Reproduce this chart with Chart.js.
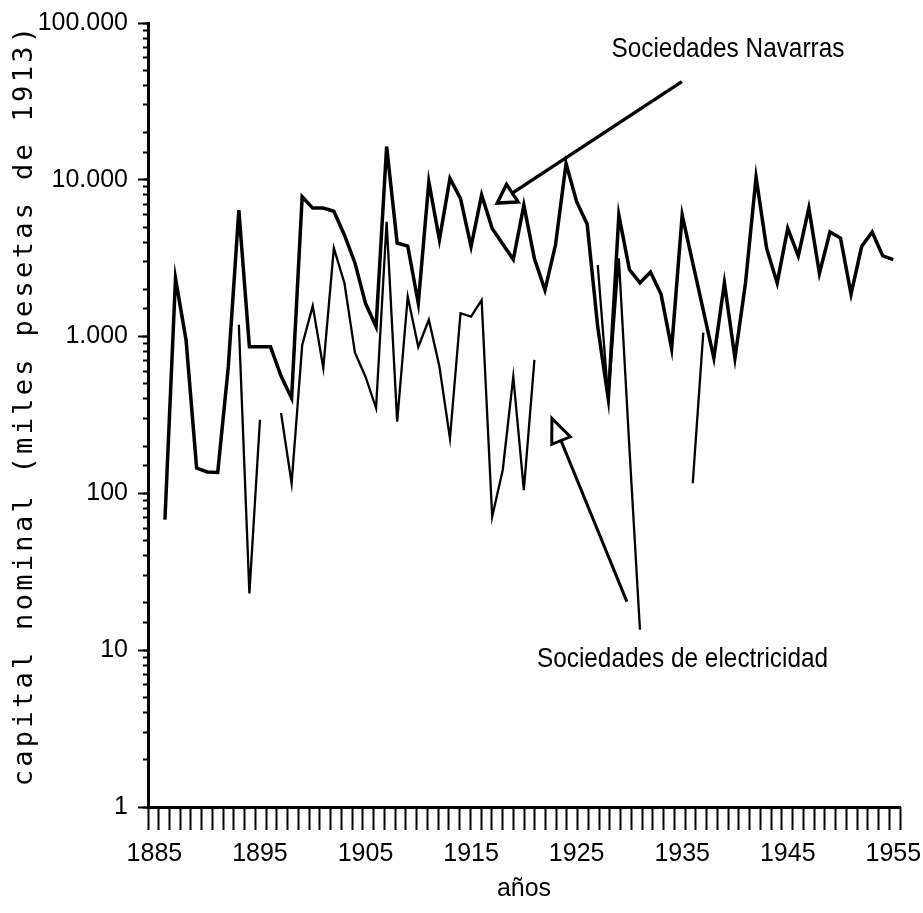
<!DOCTYPE html>
<html>
<head>
<meta charset="utf-8">
<script src="https://cdn.jsdelivr.net/npm/chart.js@4.4.1/dist/chart.umd.min.js"></script>
<style>
  html, body { margin: 0; padding: 0; background: #ffffff; }
  #wrap { width: 923px; height: 913px; position: relative; }
</style>
</head>
<body>
<div id="wrap"><canvas id="c" width="923" height="913"></canvas></div>
<script>
// ---- data ----
const years = [
  1886,1887,1888,1889,1890,1891,1892,1893,1894,1895,
  1896,1897,1898,1899,1900,1901,1902,1903,1904,1905,
  1906,1907,1908,1909,1910,1911,1912,1913,1914,1915,
  1916,1917,1918,1919,1920,1921,1922,1923,1924,1925,
  1926,1927,1928,1929,1930,1931,1932,1933,1934,1935,
  1936,1937,1938,1939,1940,1941,1942,1943,1944,1945,
  1946,1947,1948,1949,1950,1951,1952,1953,1954,1955
];
const sociedadesNavarras = [
  68,2350,950,145,137,136,640,6400,860,860,
  860,560,405,7800,6600,6600,6300,4450,2950,1630,
  1160,16300,3950,3780,1630,9700,4150,10200,7600,3750,
  8000,4900,3900,3100,6900,3150,1980,3850,12700,7250,
  5200,1150,400,5950,2680,2200,2580,1860,840,5950,
  2950,1470,730,2200,730,2200,10400,3650,2200,4900,
  3270,6600,2530,4650,4250,1870,3750,4650,3270,3100
];
const sociedadesElectricidad = [
  null,null,null,null,null,null,null,1190,23,295,
  null,325,116,880,1570,630,3670,2200,790,555,
  350,5400,287,1800,860,1280,645,224,1410,1340,
  1710,71,141,555,105,710,null,null,null,null,
  null,2860,400,3160,195,13.5,null,null,null,null,
  116,1060,null,null,null,null,null,null,null,null,
  null,null,null,null,null,null,null,null,null,null
];
const decadeLabels = [1885,1895,1905,1915,1925,1935,1945,1955];
const yTickValues = [1,10,100,1000,10000,100000];
const yTickLabels = ['1','10','100','1.000','10.000','100.000'];
const seriesNames = ['Sociedades Navarras','Sociedades de electricidad'];
const yTitle = 'capital nominal (miles pesetas de 1913)';
const xTitle = 'años';

// annotation anchors, in data units (year, value)
const annotations = [
  { text: seriesNames[0], textAt: [1928.3, 61000], tail: [1934.97, 42260], tip: [1917.48, 7110],
    lineWidth: 3.4, headLength: 18, headWidth: 21 },
  { text: seriesNames[1], textAt: [1921.24, 7.85], tail: [1929.76, 20.4], tip: [1922.66, 301],
    lineWidth: 3.0, headLength: 24, headWidth: 20 }
];

const sansFont = '"Liberation Sans", Arial, sans-serif';
const monoFont = '"DejaVu Sans Mono", "Liberation Mono", monospace';
const xMin = 1884.394, xMax = 1955.635;

const toPoints = (vals) => years.map((yr, i) => ({ x: yr, y: vals[i] }));

const overlayPlugin = {
  id: 'overlay',
  afterDraw(chart) {
    const { ctx, chartArea, scales } = chart;
    const xs = scales.x, ys = scales.y;
    ctx.save();
    // y-axis title (letter-spaced, rotated)
    ctx.fillStyle = '#000';
    ctx.font = '27px ' + monoFont;
    try { ctx.letterSpacing = '3.3px'; } catch (e) {}
    ctx.translate(32, (chartArea.top + chartArea.bottom) / 2 - 10);
    ctx.rotate(-Math.PI / 2);
    ctx.textAlign = 'center';
    ctx.textBaseline = 'alphabetic';
    ctx.fillText(yTitle, 0, 0);
    ctx.restore();

    for (const a of annotations) {
      const tx = xs.getPixelForValue(a.tail[0]), ty = ys.getPixelForValue(a.tail[1]);
      const px = xs.getPixelForValue(a.tip[0]), py = ys.getPixelForValue(a.tip[1]);
      const dx = px - tx, dy = py - ty, len = Math.hypot(dx, dy);
      const ux = dx / len, uy = dy / len;
      const bx = px - ux * a.headLength, by = py - uy * a.headLength;
      const hw = a.headWidth / 2;
      ctx.save();
      ctx.strokeStyle = '#000';
      ctx.lineWidth = a.lineWidth;
      ctx.lineCap = 'butt';
      ctx.lineJoin = 'miter';
      ctx.beginPath();
      ctx.moveTo(tx, ty);
      ctx.lineTo(bx, by);
      ctx.stroke();
      ctx.beginPath();
      ctx.moveTo(px, py);
      ctx.lineTo(bx - uy * hw, by + ux * hw);
      ctx.lineTo(bx + uy * hw, by - ux * hw);
      ctx.closePath();
      ctx.stroke();
      // label: tall, narrow lettering like the plotter font
      ctx.fillStyle = '#000';
      ctx.font = '28px ' + sansFont;
      ctx.textAlign = 'left';
      ctx.textBaseline = 'alphabetic';
      ctx.translate(xs.getPixelForValue(a.textAt[0]), ys.getPixelForValue(a.textAt[1]));
      ctx.scale(0.87, 1);
      ctx.fillText(a.text, 0, 0);
      ctx.restore();
    }
  }
};

new Chart(document.getElementById('c'), {
  type: 'line',
  data: {
    datasets: [
      {
        label: seriesNames[0],
        data: toPoints(sociedadesNavarras),
        borderColor: '#000',
        borderWidth: 3.5,
        pointRadius: 0,
        tension: 0,
        spanGaps: false,
        xAxisID: 'x', yAxisID: 'y'
      },
      {
        label: seriesNames[1],
        data: toPoints(sociedadesElectricidad),
        borderColor: '#000',
        borderWidth: 2.3,
        pointRadius: 0,
        tension: 0,
        spanGaps: false,
        xAxisID: 'x', yAxisID: 'y'
      }
    ]
  },
  options: {
    responsive: false,
    animation: false,
    layout: { padding: { top: 23, right: 23, bottom: 0, left: 0 } },
    plugins: { legend: { display: false }, tooltip: { enabled: false }, title: { display: false } },
    scales: {
      x: {
        type: 'linear',
        position: 'bottom',
        min: xMin,
        max: xMax,
        afterBuildTicks: (s) => { s.ticks = decadeLabels.map(v => ({ value: v })); },
        afterFit: (s) => { s.height = 106; s.paddingLeft = 0; s.paddingRight = 0; },
        ticks: {
          autoSkip: false, maxRotation: 0, padding: 0, color: '#000',
          font: { family: sansFont, size: 25 },
          callback: (v) => String(v)
        },
        grid: { display: false, drawTicks: true, tickLength: 32 },
        border: { display: true, color: '#000', width: 3 },
        title: {
          display: true, text: xTitle, color: '#000',
          font: { family: sansFont, size: 25 },
          padding: { top: 0, bottom: 9 }
        }
      },
      xYears: {
        type: 'linear',
        axis: 'x',
        position: { y: 1 },
        min: 1885,
        max: 1955,
        ticks: { display: false, stepSize: 1, autoSkip: false },
        grid: { drawOnChartArea: false, drawTicks: true, tickLength: 23, tickWidth: 2, color: '#000' },
        border: { display: false }
      },
      y: {
        type: 'logarithmic',
        position: 'left',
        min: 1,
        max: 100000,
        afterFit: (s) => { s.width = 148; s.paddingTop = 0; s.paddingBottom = 0; },
        ticks: {
          autoSkip: false, padding: 15, color: '#000',
          font: { family: sansFont, size: 25 },
          callback: (v) => {
            const i = yTickValues.findIndex(t => Math.abs(t - v) < t * 1e-6);
            return i >= 0 ? yTickLabels[i] : '';
          }
        },
        grid: { drawOnChartArea: false, drawTicks: true, tickLength: 5, tickWidth: 2, color: '#000' },
        border: { display: true, color: '#000', width: 3 },
        title: { display: false }
      },
      yMajor: {
        type: 'logarithmic',
        axis: 'y',
        position: { x: xMin },
        min: 1,
        max: 100000,
        afterBuildTicks: (s) => { s.ticks = yTickValues.map(v => ({ value: v })); },
        ticks: { display: false, autoSkip: false },
        grid: { drawOnChartArea: false, drawTicks: true, tickLength: 10, tickWidth: 2, color: '#000' },
        border: { display: false }
      }
    }
  },
  plugins: [overlayPlugin]
});
</script>
</body>
</html>
